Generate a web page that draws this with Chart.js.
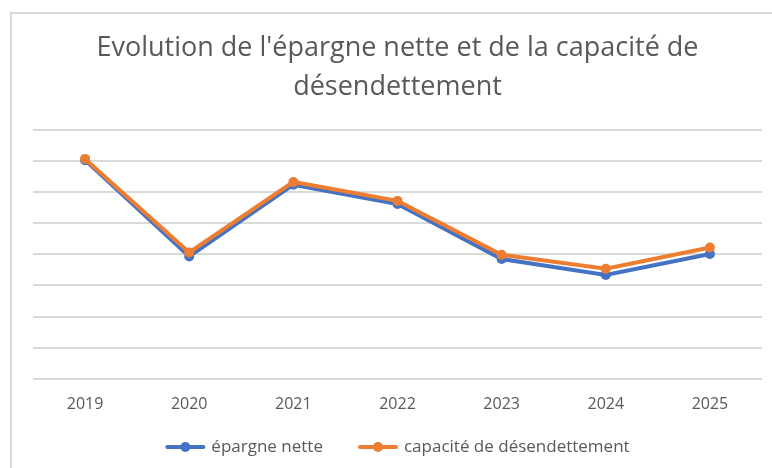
<!DOCTYPE html>
<html>
<head>
<meta charset="utf-8">
<script src="https://cdn.jsdelivr.net/npm/chart.js@4/dist/chart.umd.min.js"></script>
<style>
    html, body { margin: 0; padding: 0; background: #fff; overflow: hidden; }
    #frame {
        position: absolute; left: 10px; top: 12px;
        width: 775px; height: 470px;
        border-left: 2px solid #d9d9d9; border-top: 2px solid #d9d9d9;
    }
    #chart-container { position: relative; width: 773px; height: 456px; }
</style>
</head>
<body>
<div id="frame">
    <div id="chart-container"><canvas id="lineChart"></canvas></div>
</div>
<script>
    // Data (no y labels in the original, scale 0..8 = 8 gridline bands)
    var years = ['2019', '2020', '2021', '2022', '2023', '2024', '2025'];
    var epargneNette = [7.03, 3.93, 6.24, 5.62, 3.85, 3.34, 4.01];
    var capaciteDesendettement = [7.07, 4.06, 6.33, 5.72, 3.99, 3.54, 4.22];

    var BLUE = '#4472C4';
    var ORANGE = '#ED7D31';
    var TEXT = '#595959';

    // Excel style legend: short line with a dot, then the label
    var excelLegend = {
        id: 'excelLegend',
        afterDraw: function (chart) {
            var c = chart.ctx;
            var font = '17px "Open Sans"';
            var markW = 40, gap = 6, itemGap = 35;
            c.save();
            c.font = font;
            var items = chart.data.datasets.map(function (ds) {
                return { text: ds.label, color: ds.borderColor, w: c.measureText(ds.label).width };
            });
            var total = 0;
            items.forEach(function (it, i) {
                total += markW + gap + it.w + (i > 0 ? itemGap : 0);
            });
            var x = (chart.chartArea.left + chart.chartArea.right) / 2 - total / 2;
            var y = chart.scales.x.bottom + 17;
            items.forEach(function (it) {
                c.strokeStyle = it.color;
                c.lineWidth = 4;
                c.lineCap = 'round';
                c.beginPath();
                c.moveTo(x + 2, y);
                c.lineTo(x + markW - 2, y);
                c.stroke();
                c.fillStyle = it.color;
                c.beginPath();
                c.arc(x + markW / 2, y, 5, 0, Math.PI * 2);
                c.fill();
                c.fillStyle = TEXT;
                c.textBaseline = 'middle';
                c.textAlign = 'left';
                c.fillText(it.text, x + markW + gap, y);
                x += markW + gap + it.w + itemGap;
            });
            c.restore();
        }
    };

    var ctx = document.getElementById('lineChart').getContext('2d');
    var chart = new Chart(ctx, {
        type: 'line',
        data: {
            labels: years,
            datasets: [{
                label: 'épargne nette',
                data: epargneNette,
                borderColor: BLUE,
                backgroundColor: BLUE,
                borderWidth: 4,
                pointRadius: 5,
                pointHoverRadius: 5,
                pointBorderWidth: 0,
                tension: 0,
                order: 2
            },
            {
                label: 'capacité de désendettement',
                data: capaciteDesendettement,
                borderColor: ORANGE,
                backgroundColor: ORANGE,
                borderWidth: 4,
                pointRadius: 5,
                pointHoverRadius: 5,
                pointBorderWidth: 0,
                tension: 0,
                order: 1
            }]
        },
        plugins: [excelLegend],
        options: {
            responsive: true,
            maintainAspectRatio: false,
            animation: false,
            layout: {
                padding: { left: 21, right: 23, top: 0, bottom: 40 }
            },
            plugins: {
                title: {
                    display: true,
                    text: ["Evolution de l'épargne nette et de la capacité de", 'désendettement'],
                    color: TEXT,
                    font: { family: 'Open Sans', size: 27, weight: 'normal', lineHeight: 1.444 },
                    padding: { top: 15, bottom: 23 }
                },
                legend: { display: false },
                tooltip: { enabled: false }
            },
            scales: {
                x: {
                    offset: true,
                    grid: { display: false, drawTicks: false },
                    border: { display: false },
                    ticks: {
                        color: TEXT,
                        font: { family: 'Open Sans', size: 16 },
                        padding: 16
                    }
                },
                y: {
                    min: 0,
                    max: 8,
                    grid: { color: '#d9d9d9', lineWidth: 2, drawTicks: false },
                    border: { display: false },
                    ticks: { display: false, stepSize: 1 }
                }
            }
        }
    });
</script>
</body>
</html>
